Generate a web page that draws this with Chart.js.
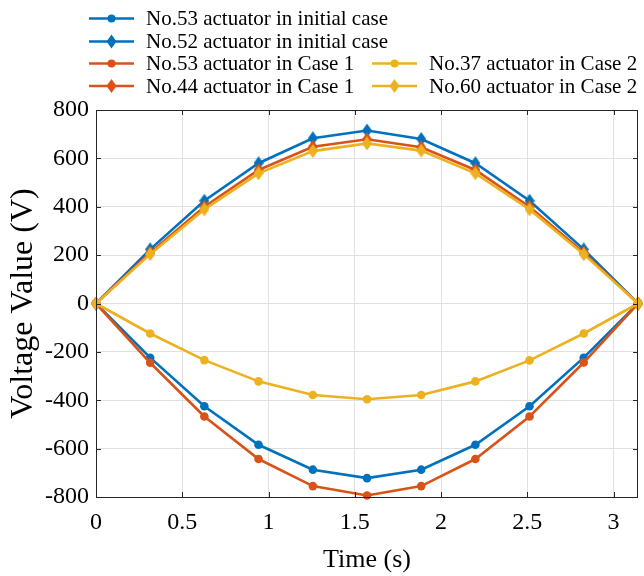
<!DOCTYPE html>
<html><head><meta charset="utf-8">
<script src="https://cdn.jsdelivr.net/npm/chart.js@4.4.0/dist/chart.umd.min.js"></script>
<style>html,body{margin:0;padding:0;background:#fff}#wrap{width:644px;height:576px;position:relative}</style>
</head><body><div id="wrap"><canvas id="c" width="644" height="576"></canvas></div>
<script>
// ---- data ----
const timeS = [0, 0.314, 0.628, 0.942, 1.257, 1.571, 1.885, 2.199, 2.513, 2.827, 3.142];
const no53Initial = [0, -224, -425, -584, -687, -722, -687, -584, -425, -224, 0];
const no52Initial = [0, 224, 425, 580, 683, 715, 680, 580, 425, 224, 0];
const no53Case1   = [0, -245, -467, -643, -755, -794, -755, -643, -467, -244, 0];
const no44Case1   = [0, 210, 400, 552, 648, 679, 646, 552, 400, 210, 0];
const no37Case2   = [0, -124, -234, -322, -378, -396, -378, -322, -235, -124, 0];
const no60Case2   = [0, 204, 389, 538, 630, 662, 632, 538, 389, 204, 0];
const seriesLabels = [
  'No.53 actuator in initial case',
  'No.52 actuator in initial case',
  'No.53 actuator in Case 1',
  'No.44 actuator in Case 1',
  'No.37 actuator in Case 2',
  'No.60 actuator in Case 2'
];
const xTickLabels = ['0', '0.5', '1', '1.5', '2', '2.5', '3'];
const xMax = 3.1416;
const yMin = -800, yMax = 800, yStep = 200, xStep = 0.5;
const xTitle = 'Time (s)';
const yTitle = 'Voltage Value (V)';

// ---- styles ----
const BLUE = '#0072BD', ORANGE = '#D95319', YELLOW = '#EDB120';
const FONT = "'Liberation Serif', 'Times New Roman', serif";
function diamond(color, w, h) {
  const c = document.createElement('canvas'); c.width = w; c.height = h;
  const g = c.getContext('2d'); g.fillStyle = color; g.beginPath();
  g.moveTo(w/2, 0); g.lineTo(w, h/2); g.lineTo(w/2, h); g.lineTo(0, h/2); g.closePath(); g.fill();
  return c;
}
const seriesValues = [no53Initial, no52Initial, no53Case1, no44Case1, no37Case2, no60Case2];
const seriesColors = [BLUE, BLUE, ORANGE, ORANGE, YELLOW, YELLOW];
const seriesMarker = ['circle', 'diamond', 'circle', 'diamond', 'circle', 'diamond'];

const datasets = seriesValues.map((vals, i) => {
  const col = seriesColors[i];
  const isD = seriesMarker[i] === 'diamond';
  return {
    label: seriesLabels[i],
    data: vals.map((v, j) => ({x: timeS[j], y: v})),
    borderColor: col, backgroundColor: col,
    borderWidth: 2.6,
    pointStyle: isD ? diamond(col, 10, 14) : 'circle',
    pointRadius: isD ? 6 : 4.3,
    pointBorderWidth: 0,
    pointBackgroundColor: col,
    tension: 0, clip: false,
    order: 6 - i
  };
});

const frameLegendPlugin = {
  id: 'frameLegend',
  afterDraw(chart) {
    const ctx = chart.ctx, a = chart.chartArea;
    const xs = chart.scales.x, ys = chart.scales.y;
    ctx.save();
    ctx.strokeStyle = '#262626'; ctx.lineWidth = 1;
    ctx.strokeRect(Math.round(a.left) + 0.5, Math.round(a.top) + 0.5, Math.round(a.right - a.left) - 1, Math.round(a.bottom - a.top));
    const tl = 5;
    ctx.beginPath();
    xs.ticks.forEach(t => {
      const px = Math.round(xs.getPixelForValue(t.value)) + 0.5;
      ctx.moveTo(px, a.bottom); ctx.lineTo(px, a.bottom - tl);
      ctx.moveTo(px, a.top); ctx.lineTo(px, a.top + tl);
    });
    ys.ticks.forEach(t => {
      const py = Math.round(ys.getPixelForValue(t.value)) + 0.5;
      ctx.moveTo(a.left, py); ctx.lineTo(a.left + tl, py);
      ctx.moveTo(a.right, py); ctx.lineTo(a.right - tl, py);
    });
    ctx.stroke();

    // legend
    const rows = [18.5, 41.5, 63.5, 86];
    const items = [
      {i: 0, x: 89, r: 0}, {i: 1, x: 89, r: 1}, {i: 2, x: 89, r: 2}, {i: 3, x: 89, r: 3},
      {i: 4, x: 372, r: 2}, {i: 5, x: 372, r: 3}
    ];
    ctx.font = '21px ' + FONT;
    ctx.textBaseline = 'middle'; ctx.textAlign = 'left';
    items.forEach(it => {
      const y = rows[it.r], col = seriesColors[it.i];
      ctx.strokeStyle = col; ctx.lineWidth = 2.6;
      ctx.beginPath(); ctx.moveTo(it.x, y); ctx.lineTo(it.x + 45, y); ctx.stroke();
      const cx = it.x + 22.5;
      ctx.fillStyle = col;
      if (seriesMarker[it.i] === 'circle') {
        ctx.beginPath(); ctx.arc(cx, y, 4, 0, Math.PI * 2); ctx.fill();
      } else {
        ctx.beginPath(); ctx.moveTo(cx, y - 7); ctx.lineTo(cx + 5, y); ctx.lineTo(cx, y + 7); ctx.lineTo(cx - 5, y); ctx.closePath(); ctx.fill();
      }
      ctx.fillStyle = '#000';
      ctx.fillText(seriesLabels[it.i], it.x + 57, y + 1);
    });
    ctx.restore();
  }
};

new Chart(document.getElementById('c'), {
  type: 'line',
  data: { datasets },
  options: {
    responsive: false, animation: false, devicePixelRatio: 1,
    layout: { padding: { top: 110, right: 6, left: 0, bottom: 0 } },
    plugins: { legend: { display: false }, tooltip: { enabled: false } },
    scales: {
      x: {
        type: 'linear', min: 0, max: xMax,
        ticks: {
          stepSize: xStep, includeBounds: false, font: { family: FONT, size: 24 }, color: '#000', padding: 11, maxRotation: 0,
          callback: (v, idx) => xTickLabels[idx] !== undefined ? xTickLabels[idx] : String(v)
        },
        grid: { color: '#e0e0e0', drawTicks: false },
        border: { display: false },
        title: { display: true, text: xTitle, font: { family: FONT, size: 26 }, color: '#000', padding: { top: 0, bottom: 0 } },
        afterFit(s) { s.height = 79; }
      },
      y: {
        type: 'linear', min: yMin, max: yMax,
        ticks: { stepSize: yStep, font: { family: FONT, size: 24 }, color: '#000', padding: 7 },
        grid: { color: '#e0e0e0', drawTicks: false },
        border: { display: false },
        title: { display: true, text: yTitle, font: { family: FONT, size: 32 }, color: '#000', padding: { top: 4, bottom: 0 } },
        afterFit(s) { s.width = 96; }
      }
    }
  },
  plugins: [frameLegendPlugin]
});
</script></body></html>
